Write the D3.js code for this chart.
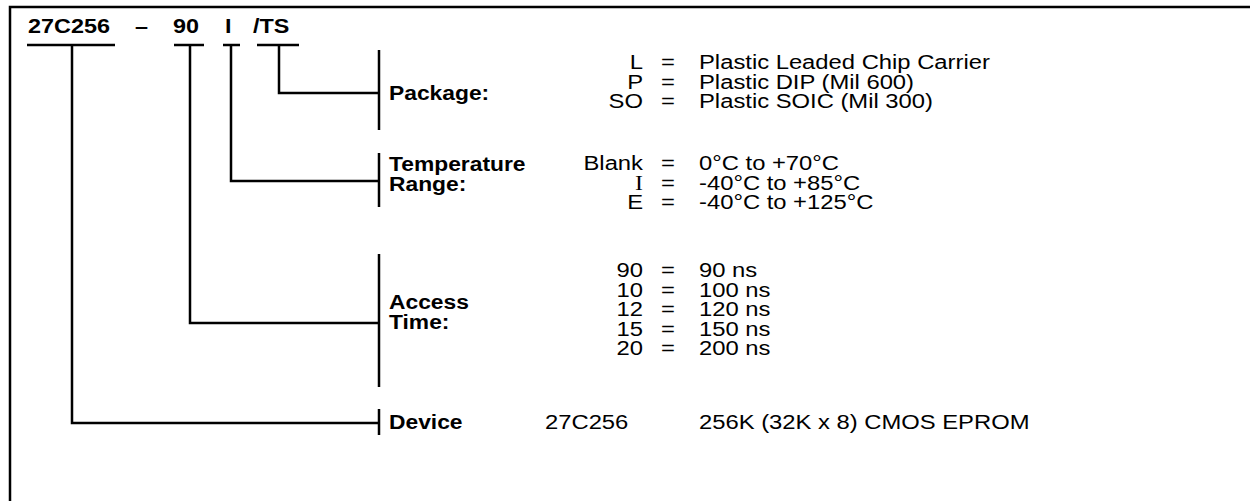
<!DOCTYPE html>
<html>
<head>
<meta charset="utf-8">
<script src="https://cdn.jsdelivr.net/npm/d3@7"></script>
<style>
  body { margin: 0; background: #fff; }
  text { font-family: "Liberation Sans", Arial, sans-serif; fill: #000; }
  .bold { font-weight: bold; }
</style>
</head>
<body>
<div id="chart"></div>
<script>
// part number pieces
const partSegments = ["27C256", "–", "90", "I", "/TS"];

// option groups
const packageCodes = ["L", "P", "SO"];
const packageDescs = ["Plastic Leaded Chip Carrier", "Plastic DIP (Mil 600)", "Plastic SOIC (Mil 300)"];

const tempCodes = ["Blank", "I", "E"];
const tempDescs = ["0°C to +70°C", "-40°C to +85°C", "-40°C to +125°C"];

const accessCodes = ["90", "10", "12", "15", "20"];
const accessDescs = ["90 ns", "100 ns", "120 ns", "150 ns", "200 ns"];

const deviceCodes = ["27C256"];
const deviceDescs = ["256K (32K x 8) CMOS EPROM"];

const groupLabels = [["Package:"], ["Temperature", "Range:"], ["Access", "Time:"], ["Device"]];

// layout
const W = 1250, H = 501;
const SX = 1.17;                                   // the original is a little wider than tall
const segX = [28, 135, 173, 225, 253];             // left of each part piece
const underlines = [[27, 115], null, [174, 204], [223, 240], [257, 299]];
const dropX = [72, null, 190, 231, 279];
const bracketX = 379;
const lineGap = 19.5;
const codeRight = 643, eqX = 668, descX = 699, labelX = 389;

const groups = [
    {codes: packageCodes, descs: packageDescs, label: groupLabels[0], top: 69,  labelTop: 100, bracket: [50, 130],  tap: 93,  seg: 4},
    {codes: tempCodes,    descs: tempDescs,    label: groupLabels[1], top: 170, labelTop: 171, bracket: [153, 207], tap: 181, seg: 3},
    {codes: accessCodes,  descs: accessDescs,  label: groupLabels[2], top: 277, labelTop: 309, bracket: [254, 387], tap: 323, seg: 2},
    {codes: deviceCodes,  descs: deviceDescs,  label: groupLabels[3], top: 429, labelTop: 429, bracket: [409, 435], tap: 423, seg: 0}
];

let svg = d3.select("#chart").append("svg")
    .attr("width", W)
    .attr("height", H);

let addText = function(sel, x, y, txt, opts) {
    opts = opts || {};
    return sel.append("text")
        .attr("transform", `translate(${x},${y}) scale(${opts.sx || SX},1)`)
        .attr("text-anchor", opts.anchor || "start")
        .classed("bold", !!opts.bold)
        .style("font-size", (opts.size || 20) + "px")
        .style("font-family", opts.family || null)
        .text(txt);
};

// frame (only top and left edges are in view)
svg.append("path")
    .attr("d", `M${W},7 H10 V${H}`)
    .attr("fill", "none")
    .attr("stroke", "#000")
    .attr("stroke-width", 2.5);

// part number header
partSegments.forEach((d, i) => addText(svg, segX[i], 33, d, {bold: true}));

svg.selectAll(".uline")
    .data(underlines.filter(d => d))
    .join("line")
    .attr("class", "uline")
    .attr("x1", d => d[0])
    .attr("x2", d => d[1])
    .attr("y1", 45)
    .attr("y2", 45)
    .attr("stroke", "#000")
    .attr("stroke-width", 2.5);

groups.forEach(g => {
    let y = d3.scaleLinear().domain([0, 1]).range([g.top, g.top + lineGap]);

    // connector from part piece to bracket
    svg.append("path")
        .attr("d", `M${dropX[g.seg]},45 V${g.tap} H${bracketX}`)
        .attr("fill", "none")
        .attr("stroke", "#000")
        .attr("stroke-width", 2.5);

    svg.append("line")
        .attr("x1", bracketX).attr("x2", bracketX)
        .attr("y1", g.bracket[0]).attr("y2", g.bracket[1])
        .attr("stroke", "#000")
        .attr("stroke-width", 2.5);

    g.label.forEach((d, i) => addText(svg, labelX, g.labelTop + i * lineGap, d, {bold: true, size: 19.5}));

    if (g.seg === 0) {
        // device row has no "=" column
        addText(svg, 545, y(0), g.codes[0], {sx: 1.19});
        addText(svg, descX, y(0), g.descs[0], {sx: 1.19});
        return;
    }

    g.codes.forEach((c, i) => {
        addText(svg, codeRight, y(i), c, {anchor: "end", sx: 1.19,
            family: c === "I" ? "'Liberation Serif', serif" : null});
        addText(svg, eqX, y(i), "=", {anchor: "middle", sx: 1.19});
        addText(svg, descX, y(i), g.descs[i], {sx: 1.19});
    });
});
</script>
</body>
</html>
